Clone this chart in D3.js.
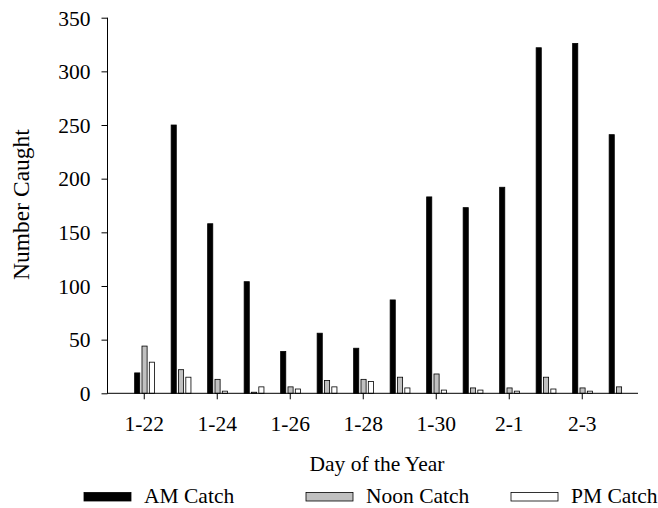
<!DOCTYPE html>
<html>
<head>
<meta charset="utf-8">
<script src="https://cdn.jsdelivr.net/npm/d3@7/dist/d3.min.js"></script>
<style>
  html, body { margin: 0; padding: 0; background: #fff; }
  svg text { font-family: "Liberation Serif", "Times New Roman", serif; fill: #000; }
</style>
</head>
<body>
<svg id="chart" width="658" height="508"></svg>
<script>
const categories = ["1-22","1-23","1-24","1-25","1-26","1-27","1-28","1-29","1-30","1-31","2-1","2-2","2-3","2-4"];
const seriesNames = ["AM Catch","Noon Catch","PM Catch"];
const amCatch   = [19, 250, 158, 104, 39, 56, 42, 87, 183, 173, 192, 322, 326, 241];
const noonCatch = [44, 22, 13, 1, 6, 12, 13, 15, 18, 5, 5, 15, 5, 6];
const pmCatch   = [29, 15, 2, 6, 4, 6, 11, 5, 3, 3, 2, 4, 2, 0];
const yTicks = [0, 50, 100, 150, 200, 250, 300, 350];
const xTickLabels = ["1-22","1-24","1-26","1-28","1-30","2-1","2-3"];
const seriesColors = ["#000000", "#c0c0c0", "#ffffff"];

const seriesValues = [amCatch, noonCatch, pmCatch];
const svg = d3.select("#chart");

const y = d3.scaleLinear().domain([0, 350]).range([393.3, 17.7]);
const x0 = d3.scaleBand().domain(categories).range([126, 637]).padding(0);
const x1 = d3.scaleBand().domain(seriesNames).range([0, 19.8]).paddingInner(0.3);
const groupOffset = x0.bandwidth() / 2 - 9.6;

// Bars
const g = svg.append("g");
categories.forEach((c, i) => {
  seriesNames.forEach((s, j) => {
    const v = seriesValues[j][i];
    if (v <= 0) return;
    g.append("rect")
      .attr("x", x0(c) + groupOffset + x1(s))
      .attr("y", y(v))
      .attr("width", x1.bandwidth())
      .attr("height", y(0) - y(v))
      .attr("fill", seriesColors[j])
      .attr("stroke", "#000")
      .attr("stroke-width", 0.8);
  });
});

// Y axis
const yAxis = svg.append("g")
  .attr("transform", "translate(107.5,0)")
  .call(d3.axisLeft(y).tickValues(yTicks).tickSize(6).tickPadding(11).tickSizeOuter(0));
yAxis.select(".domain").attr("stroke", "#000").attr("d", `M0,${y(350)}V${y(0)}`);
yAxis.selectAll(".tick line").attr("stroke", "#000");
yAxis.selectAll(".tick text").attr("font-size", "21.5px").attr("dy", "0.34em");

// X axis
const xAxis = svg.append("g")
  .attr("transform", `translate(0,${y(0)})`)
  .call(d3.axisBottom(x0).tickValues(xTickLabels).tickSize(6).tickPadding(16).tickSizeOuter(0));
xAxis.select(".domain").attr("stroke", "#000").attr("d", "M107,0H638");
xAxis.selectAll(".tick line").attr("stroke", "#000");
xAxis.selectAll(".tick text").attr("font-size", "21.5px");

// Axis titles
svg.append("text")
  .attr("x", 377).attr("y", 471)
  .attr("text-anchor", "middle")
  .attr("font-size", "21.5px")
  .text("Day of the Year");

svg.append("text")
  .attr("transform", "translate(29,204.5) rotate(-90)")
  .attr("text-anchor", "middle")
  .attr("font-size", "23.5px")
  .text("Number Caught");

// Legend
const legendX = [84, 306, 511];
const legend = svg.append("g");
seriesNames.forEach((s, j) => {
  legend.append("rect")
    .attr("x", legendX[j]).attr("y", 492.5)
    .attr("width", 47).attr("height", 8.5)
    .attr("fill", seriesColors[j])
    .attr("stroke", "#000").attr("stroke-width", 0.8);
  legend.append("text")
    .attr("x", legendX[j] + 60).attr("y", 503)
    .attr("font-size", "21.5px")
    .text(s);
});
</script>
</body>
</html>
